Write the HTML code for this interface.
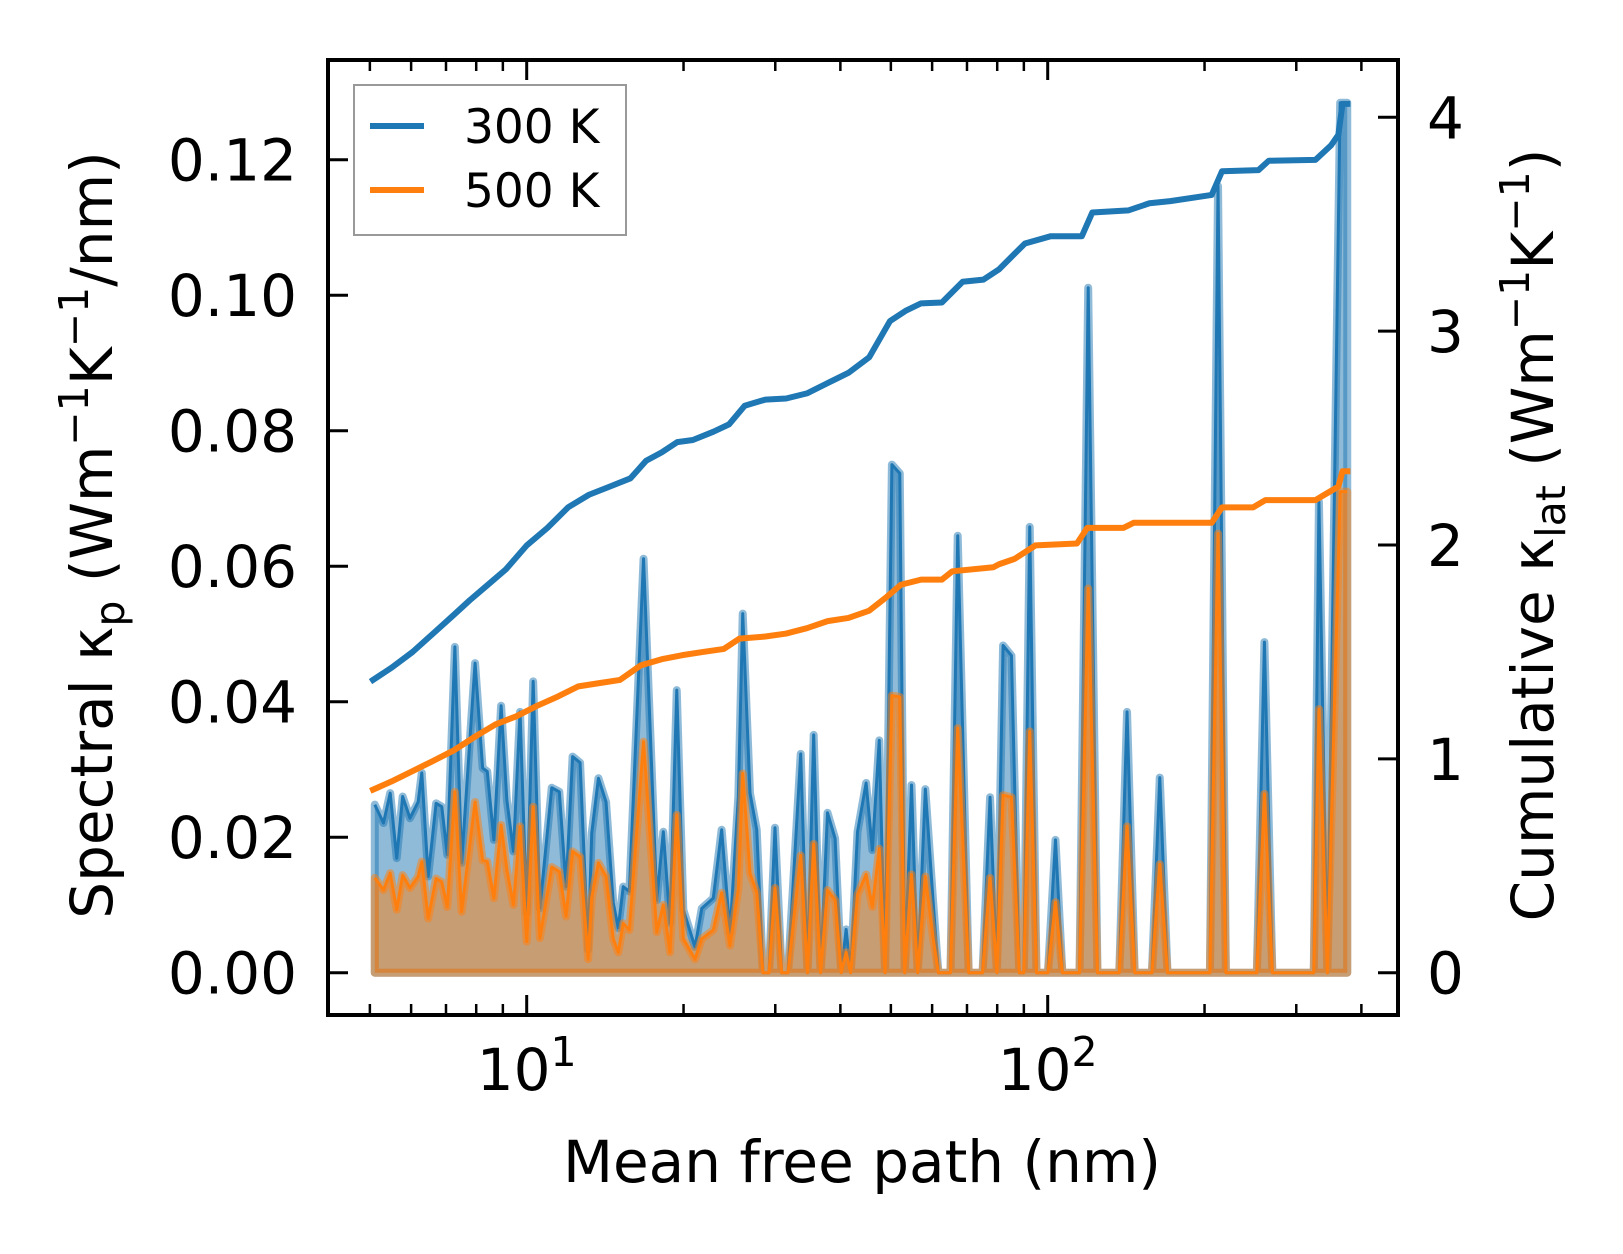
<!DOCTYPE html>
<html><head><meta charset="utf-8"><style>
html,body{margin:0;padding:0;background:#fff;}
svg{display:block;font-family:"DejaVu Sans","Liberation Sans",sans-serif;}
</style></head><body>
<svg id="chart" width="1623" height="1254" viewBox="0 0 1623 1254" xmlns="http://www.w3.org/2000/svg">
<g id="plot"></g>
<g id="axes"></g>
</svg>
<script>
// ---- data ----
const mfp = [5.11,5.31,5.47,5.63,5.78,5.97,6.19,6.29,6.47,6.70,6.87,7.04,7.28,7.50,7.96,8.23,8.40,8.65,8.93,9.16,9.43,9.71,10.0,10.29,10.60,11.17,11.55,11.90,12.25,12.66,13.12,13.33,13.73,14.20,14.66,14.99,15.32,15.74,16.76,17.77,18.29,18.84,19.41,19.98,21.04,21.68,22.81,23.67,24.56,25.48,25.98,26.83,27.64,28.41,29.18,29.96,30.86,31.73,33.57,34.59,35.55,36.65,37.79,39.08,40.16,41.03,41.86,43.15,44.82,46.07,47.50,48.74,50.23,52.01,53.15,54.78,56.30,58.23,60.28,61.68,65.07,67.19,70.53,74.98,77.51,79.89,82.1,85.19,88.2,89.97,92.37,95.17,100.1,103.5,106.7,115.1,119.6,124.6,137.2,142.0,146.9,158.5,164.1,169.8,204.8,212.3,219.8,252,260.6,269.9,324.1,331.6,344.2,364.2,375.8];
const k300 = [.0248,.0221,.0265,.0169,.0260,.0228,.0252,.0295,.0142,.0250,.0245,.0174,.0481,.0162,.0457,.0302,.0297,.0196,.0394,.0255,.0179,.0385,.0088,.0430,.0095,.0273,.0267,.0127,.0319,.0310,.0034,.0206,.0287,.0252,.0103,.0066,.0127,.0120,.0611,.0107,.0208,.0073,.0417,.0093,.0038,.0095,.0110,.0211,.0059,.0260,.0530,.0265,.0211,0,0,.0214,0,0,.0323,0,.0351,0,.0236,.0198,0,.0064,0,.0208,.0280,.0181,.0343,0,.0750,.0737,0,.0277,0,.0271,.0104,0,0,.0645,0,0,.0259,0,.0483,.0468,0,0,.0658,0,0,.0196,0,0,.1011,0,0,.0385,0,0,.0288,0,0,.1161,0,0,.0488,0,0,.0695,0,.1284,.1284];
const k500 = [.0140,.0122,.0147,.0093,.0144,.0125,.0142,.0164,.0080,.0139,.0134,.0097,.0267,.0090,.0252,.0166,.0164,.0110,.0218,.0152,.0100,.0216,.0046,.0245,.0051,.0156,.0149,.0083,.0179,.0171,.0020,.0111,.0162,.0142,.0050,.0030,.0073,.0063,.0341,.0060,.0100,.0030,.0233,.0050,.0020,.0050,.0063,.0118,.0040,.0123,.0294,.0147,.0118,0,0,.0125,0,0,.0173,0,.0190,0,.0122,.0107,0,.0030,0,.0115,.0145,.0097,.0183,0,.0409,.0407,0,.0145,0,.0142,.0050,0,0,.0361,0,0,.0140,0,.0262,.0259,0,0,.0356,0,0,.0104,0,0,.0567,0,0,.0216,0,0,.0160,0,0,.0648,0,0,.0264,0,0,.0389,0,.0710,.0710];
const cumMfp300 = [5.07,5.51,6.04,6.62,7.25,7.77,8.33,9.12,10,10.96,12.02,13.17,14.43,15.82,16.95,18.16,19.45,20.84,22.83,24.45,26.20,28.72,31.48,34.50,37.81,41.45,45.44,49.80,53.36,57.15,62.65,68.67,75.27,80.63,86.39,90.44,101.4,116.3,121.8,143.0,156.8,171.9,206.4,216.1,253.8,265.7,326.6,349.9,361.3,368,376];
const cum300 = [1.369,1.427,1.500,1.587,1.674,1.741,1.804,1.886,1.998,2.080,2.177,2.235,2.273,2.312,2.394,2.433,2.481,2.491,2.530,2.564,2.651,2.680,2.685,2.709,2.757,2.805,2.878,3.047,3.095,3.130,3.134,3.231,3.241,3.289,3.362,3.410,3.444,3.444,3.555,3.565,3.598,3.608,3.637,3.748,3.753,3.797,3.801,3.869,3.918,4.063,4.063];
const cumMfp500 = [5.07,5.51,6.04,6.62,7.25,7.95,8.71,9.55,10.47,11.47,12.57,13.78,15.10,16.55,18.16,19.90,21.81,23.91,25.60,28.72,31.48,34.50,37.81,41.45,45.44,48.73,52.26,57.15,62.65,65.59,78.65,80.63,86.39,94.73,113.8,119.1,139.7,146.2,206.4,216.1,247.9,261.8,326.6,342.0,361.3,368,376];
const cum500 = [.856,.895,.943,.991,1.040,1.103,1.161,1.199,1.248,1.291,1.339,1.354,1.369,1.437,1.466,1.485,1.500,1.514,1.562,1.572,1.586,1.611,1.644,1.659,1.693,1.751,1.814,1.838,1.838,1.877,1.896,1.910,1.935,1.998,2.007,2.080,2.080,2.104,2.104,2.176,2.176,2.210,2.210,2.239,2.273,2.345,2.345];
const yTicksLeft = [0,0.02,0.04,0.06,0.08,0.10,0.12];
const yTickLabelsLeft = ["0.00","0.02","0.04","0.06","0.08","0.10","0.12"];
const yTicksRight = [0,1,2,3,4];
const xMajor = [10,100];
const xMajorExp = ["1","2"];
const xMinor = [5,6,7,8,9,20,30,40,50,60,70,80,90,200,300,400];

// ---- axes functions ----
const L=328,R=1398,T=60,B=1015;
const sx=v=>526.7+521*(Math.log10(v)-1);
const syL=v=>972.7-v*6775;
const syR=v=>972.7-v*213.85;
const NS="http://www.w3.org/2000/svg";
function mk(tag,attrs,parent){const e=document.createElementNS(NS,tag);for(const k in attrs)e.setAttribute(k,attrs[k]);parent.appendChild(e);return e;}
const plot=document.getElementById('plot'), axes=document.getElementById('axes');

function spectral(vals,color,name){
  let d=`M${sx(mfp[0])},${syL(0)}`;
  mfp.forEach((m,i)=>{d+=` L${sx(m)},${syL(vals[i])}`;});
  d+=` L${sx(mfp[mfp.length-1])},${syL(0)} Z`;
  const f=mk('path',{d:d,fill:color,'fill-opacity':0.5,stroke:color,'stroke-opacity':0.5,'stroke-width':8,'stroke-linejoin':'round'},plot);
  
  
  const pts=mfp.map((m,i)=>`${sx(m)},${syL(vals[i])}`).join(' ');
  const l=mk('polyline',{points:pts,fill:'none',stroke:color,'stroke-width':3,'stroke-linejoin':'round'},plot);
  
  
}
spectral(k300,'#1f77b4','spectral-300k');
spectral(k500,'#ff7f0e','spectral-500k');

function cum(xs,vals,color,name){
  const pts=xs.map((m,i)=>`${sx(m)},${syR(vals[i])}`).join(' ');
  const l=mk('polyline',{points:pts,fill:'none',stroke:color,'stroke-width':6,'stroke-linejoin':'round','stroke-linecap':'square'},plot);
  
  
}
cum(cumMfp300,cum300,'#1f77b4','cumulative-300k');
cum(cumMfp500,cum500,'#ff7f0e','cumulative-500k');

const fr=mk('rect',{x:L,y:T,width:R-L,height:B-T,fill:'none',stroke:'#000','stroke-width':4},axes);



yTicksLeft.forEach((v,i)=>{
  const y=syL(v);
  const t=mk('line',{x1:L,x2:L+20,y1:y,y2:y,stroke:'#000','stroke-width':3},axes);
  
  
  const tx=mk('text',{x:297,y:y+21,'text-anchor':'end','font-size':58,fill:'#000'},axes);
  tx.textContent=yTickLabelsLeft[i];
  
  
});
yTicksRight.forEach(v=>{
  const y=syR(v);
  const t=mk('line',{x1:R-20,x2:R,y1:y,y2:y,stroke:'#000','stroke-width':3},axes);
  
  
  const tx=mk('text',{x:1427,y:y+21,'font-size':58,fill:'#000'},axes);
  tx.textContent=String(v);
  
  
});
xMajor.forEach((v,i)=>{
  const x=sx(v);
  [[B,B-20],[T,T+20]].forEach(([a,b])=>{
    const t=mk('line',{x1:x,x2:x,y1:a,y2:b,stroke:'#000','stroke-width':3},axes);
    
    
  });
  const tx=mk('text',{x:x,y:1090,'text-anchor':'middle','font-size':58,fill:'#000'},axes);
  tx.textContent='10';
  const sp=mk('tspan',{dy:-24,'font-size':41},tx);
  sp.textContent=xMajorExp[i];
  
  
});
xMinor.forEach(v=>{
  const x=sx(v);
  [[B,B-11],[T,T+11]].forEach(([a,b])=>{
    const t=mk('line',{x1:x,x2:x,y1:a,y2:b,stroke:'#000','stroke-width':2.5},axes);
    
    
  });
});
</script>
<script>
(function(){
const NS="http://www.w3.org/2000/svg";
const axes=document.getElementById('axes');
const tmp=document.createElementNS(NS,'g');
tmp.innerHTML=`
<text x="862" y="1182" text-anchor="middle" font-size="58">Mean free path (nm)</text>
<text transform="translate(112,535) rotate(-90)" text-anchor="middle" font-size="58">Spectral κ<tspan font-size="41" dy="12">p</tspan><tspan dy="-12"> (Wm</tspan><tspan font-size="41" dy="-24">−1</tspan><tspan dy="24">K</tspan><tspan font-size="41" dy="-24">−1</tspan><tspan dy="24">/nm)</tspan></text>
<text transform="translate(1553,535) rotate(-90)" text-anchor="middle" font-size="58">Cumulative κ<tspan font-size="41" dy="12">lat</tspan><tspan dy="-12"> (Wm</tspan><tspan font-size="41" dy="-24">−1</tspan><tspan dy="24">K</tspan><tspan font-size="41" dy="-24">−1</tspan><tspan dy="24">)</tspan></text>
<g>
<rect x="354" y="85" width="272" height="150" fill="#fff" stroke="#999" stroke-width="2"/>
<g>
<line x1="370" x2="424" y1="126" y2="126" stroke="#1f77b4" stroke-width="6"/>
<text x="464" y="143" font-size="47">300 K</text></g>
<g>
<line x1="370" x2="424" y1="190" y2="190" stroke="#ff7f0e" stroke-width="6"/>
<text x="464" y="207" font-size="47">500 K</text></g>
</g>`;
while(tmp.firstChild)axes.appendChild(tmp.firstChild);
})();
</script>
</body></html>
